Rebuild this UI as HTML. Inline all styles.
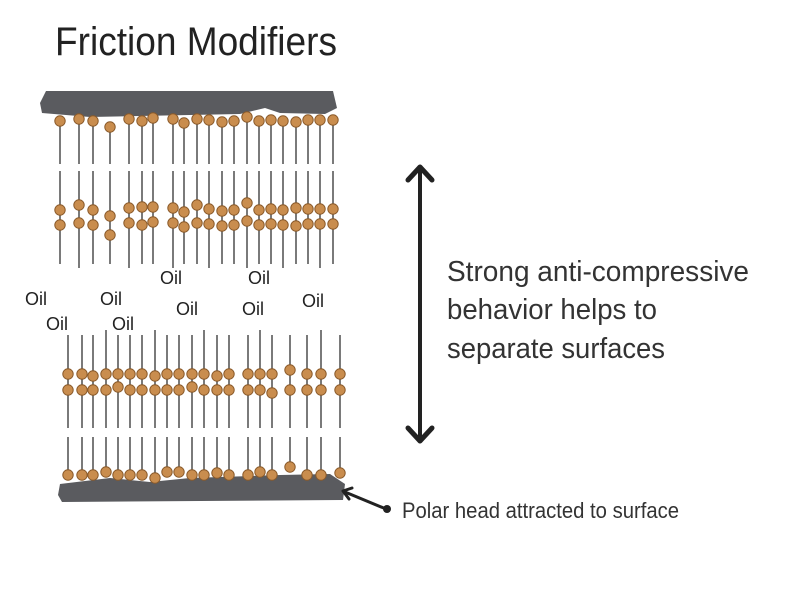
<!DOCTYPE html>
<html><head><meta charset="utf-8"><style>html,body{margin:0;padding:0;background:#fff;width:800px;height:600px;overflow:hidden}</style></head>
<body>
<svg id="s" width="800" height="600" xmlns="http://www.w3.org/2000/svg" font-family="Liberation Sans, sans-serif">
<rect width="800" height="600" fill="#fff"/>
<text x="55" y="55" font-size="40" textLength="282" lengthAdjust="spacingAndGlyphs" fill="#222">Friction Modifiers</text>
<path d="M46,91 L333,91 L337,108 L325,114 L280,113 L265,108 L240,114 L90,117 L42,113 L40,103 Z" fill="#5a5b5f"/>
<path d="M60,484 L110,478 L150,482 L190,478 L280,475 L330,474 L345,484 L343,500 L62,502 L58,495 Z" fill="#5a5b5f"/>
<g id="mol"></g>
<g font-size="18" fill="#222">
<text x="25" y="305">Oil</text><text x="46" y="330">Oil</text>
<text x="100" y="305">Oil</text><text x="112" y="330">Oil</text>
<text x="160" y="284">Oil</text><text x="176" y="315">Oil</text>
<text x="248" y="284">Oil</text><text x="242" y="315">Oil</text>
<text x="302" y="307">Oil</text>
</g>
<g stroke="#222" stroke-width="4" fill="none" stroke-linecap="round" stroke-linejoin="round">
<line x1="420" y1="168" x2="420" y2="440"/>
<polyline points="408,180 420,167 432,180" stroke-width="5"/>
<polyline points="408,428 420,441 432,428" stroke-width="5"/>
<line x1="386" y1="509" x2="345" y2="492" stroke-width="3"/>
<polyline points="352,488 343,491 349,499" stroke-width="3"/>
</g>
<circle cx="387" cy="509" r="4" fill="#222"/>
<g font-size="29" fill="#333">
<text x="447" y="281" textLength="302" lengthAdjust="spacingAndGlyphs">Strong anti-compressive</text>
<text x="447" y="319" textLength="210" lengthAdjust="spacingAndGlyphs">behavior helps to</text>
<text x="447" y="358" textLength="218" lengthAdjust="spacingAndGlyphs">separate surfaces</text>
</g>
<text x="402" y="518" font-size="22" fill="#333" textLength="277" lengthAdjust="spacingAndGlyphs">Polar head attracted to surface</text>
</svg>
<script>
var g=document.getElementById('mol'),h='';
function ln(x,a,b){h+='<line x1="'+x+'" y1="'+a+'" x2="'+x+'" y2="'+b+'" stroke="#7a7a7a" stroke-width="2"/>';}
function hd(x,y){h+='<circle cx="'+x+'" cy="'+y+'" r="5.2" fill="#c98d4e" stroke="#8a5a2a" stroke-width="1"/>';}
var tx=[60,79,93,110,129,142,153,173,184,197,209,222,234,247,259,271,283,296,308,320,333];
var to=[0,-2,0,6,-2,0,-3,-2,2,-2,-1,1,0,-4,0,-1,0,1,-1,-1,-1];
tx.forEach(function(x,i){var o=to[i];var y1=121+o;
ln(x,y1,164);ln(x,171,210+o);ln(x,210+o,225+o);ln(x,225+o,264+(i%3==1?4:0));
hd(x,y1);hd(x,210+o+(i%4==1?-3:0));hd(x,225+o+(i==3?4:0));});
var bx=[68,82,93,106,118,130,142,155,167,179,192,204,217,229,248,260,272,290,307,321,340];
var bo=[0,0,0,-3,0,0,0,3,-3,-3,0,0,-2,0,0,-3,0,-8,0,0,-2];
bx.forEach(function(x,i){var o=bo[i];
ln(x,335+(i%4==3?-5:0),375);ln(x,375,390);ln(x,390,428);ln(x,437,474+o);
hd(x,374+(i==17?-6:0)+(i%5==2?2:0));hd(x,390+(i%6==4?-3:0)+(i==16?6:0));hd(x,475+o);});
g.innerHTML=h;
</script>
</body></html>
